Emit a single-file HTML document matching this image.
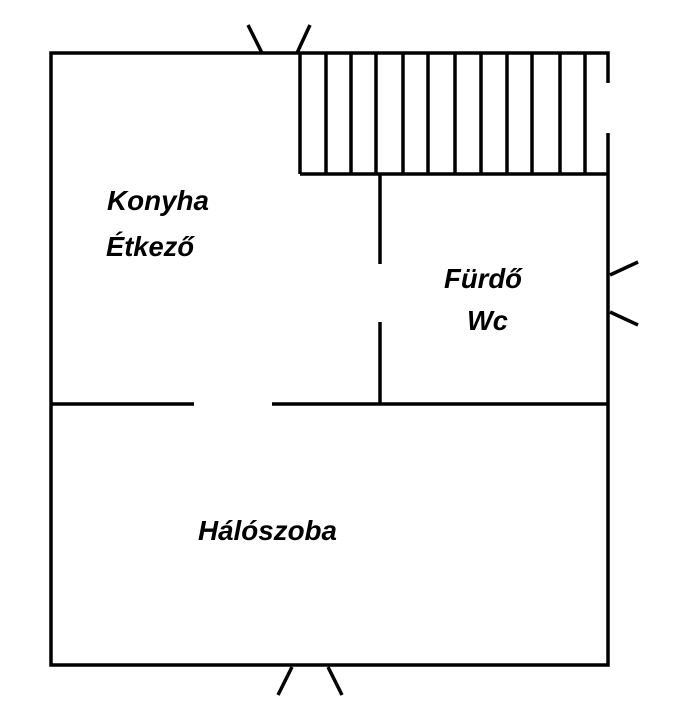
<!DOCTYPE html>
<html><head><meta charset="utf-8"><style>html,body{margin:0;padding:0;background:#fff}svg{display:block}</style></head>
<body>
<svg width="695" height="721" viewBox="0 0 695 721" xmlns="http://www.w3.org/2000/svg">
<g stroke="#000" stroke-width="3.5" fill="none" stroke-linecap="butt">
<polyline points="608,83 608,53 51,53 51,665 608,665 608,133"/>
<line x1="300" y1="53" x2="300" y2="174"/>
<line x1="300" y1="174" x2="608" y2="174"/>
<line x1="326" y1="53" x2="326" y2="174"/>
<line x1="351" y1="53" x2="351" y2="174"/>
<line x1="376" y1="53" x2="376" y2="174"/>
<line x1="403" y1="53" x2="403" y2="174"/>
<line x1="428" y1="53" x2="428" y2="174"/>
<line x1="455" y1="53" x2="455" y2="174"/>
<line x1="481" y1="53" x2="481" y2="174"/>
<line x1="507" y1="53" x2="507" y2="174"/>
<line x1="532" y1="53" x2="532" y2="174"/>
<line x1="560" y1="53" x2="560" y2="174"/>
<line x1="585" y1="53" x2="585" y2="174"/>
<line x1="380" y1="174" x2="380" y2="264"/>
<line x1="380" y1="322" x2="380" y2="404"/>
<line x1="51" y1="404" x2="194" y2="404"/>
<line x1="272" y1="404" x2="608" y2="404"/>
<line x1="248" y1="25" x2="262" y2="53"/>
<line x1="310" y1="25" x2="297" y2="53"/>
<line x1="292" y1="667" x2="278" y2="695"/>
<line x1="328" y1="667" x2="342" y2="695"/>
<line x1="610" y1="275" x2="638" y2="262"/>
<line x1="610" y1="312" x2="638" y2="325"/>
</g>
<g font-family="Liberation Sans, sans-serif" font-weight="bold" font-style="italic" font-size="28" fill="#000">
<text x="107" y="210" textLength="102" lengthAdjust="spacingAndGlyphs">Konyha</text>
<text x="106" y="256" textLength="88" lengthAdjust="spacingAndGlyphs">Étkező</text>
<text x="444" y="288" textLength="78" lengthAdjust="spacingAndGlyphs">Fürdő</text>
<text x="467" y="330" textLength="41" lengthAdjust="spacingAndGlyphs">Wc</text>
<text x="198" y="540" textLength="139" lengthAdjust="spacingAndGlyphs">Hálószoba</text>
</g>
</svg>
</body></html>
